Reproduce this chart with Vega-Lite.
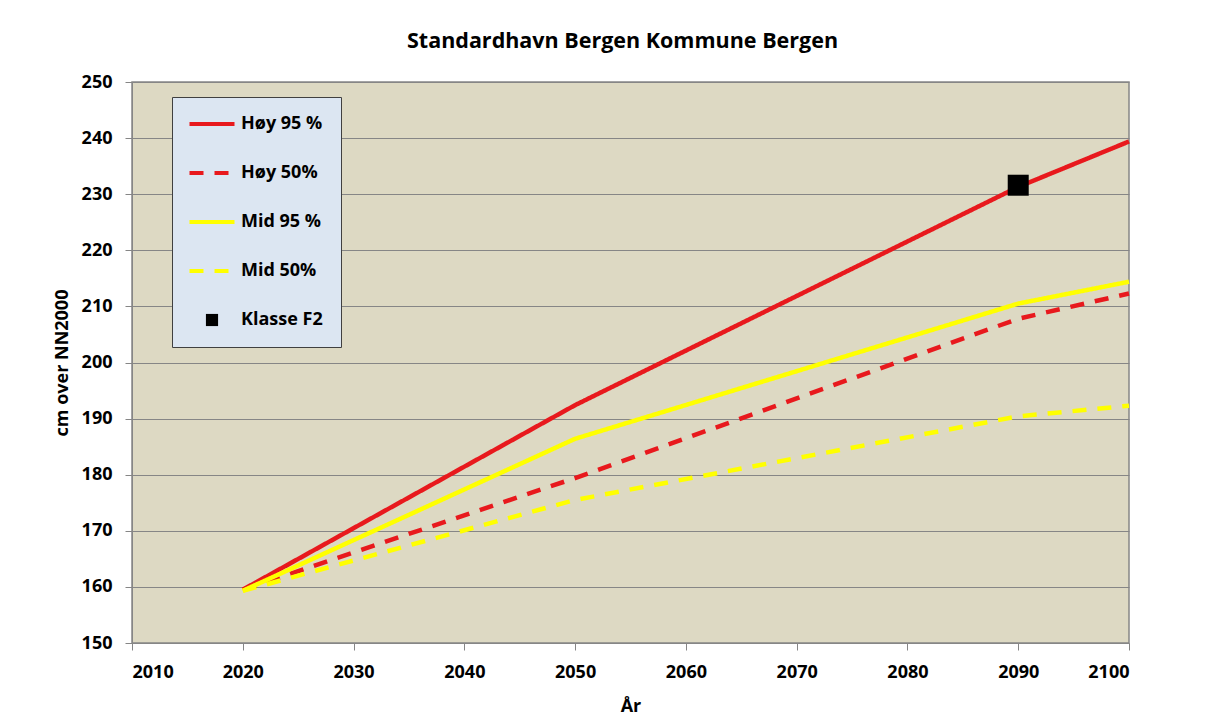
{
  "$schema": "https://vega.github.io/schema/vega-lite/v6.json",
  "width": 997,
  "height": 561,
  "autosize": {"type": "none"},
  "padding": {"left": 132, "top": 82, "right": 95, "bottom": 75},
  "background": "white",
  "title": {
    "text": "Standardhavn Bergen Kommune Bergen",
    "font": "Open Sans",
    "fontSize": 21.5,
    "fontWeight": "bold",
    "color": "#000000",
    "anchor": "middle",
    "frame": "group",
    "offset": 21,
    "dx": -8
  },
  "config": {
    "view": {"fill": "#DDD9C3", "stroke": "#868686", "strokeWidth": 1.5},
    "axis": {
      "labelFont": "Open Sans",
      "labelFontSize": 18,
      "labelFontWeight": "bold",
      "labelColor": "#000000",
      "titleFont": "Open Sans",
      "titleFontSize": 18,
      "titleFontWeight": "bold",
      "titleColor": "#000000",
      "tickColor": "#868686",
      "domainColor": "#868686",
      "gridColor": "#868686",
      "tickSize": 7
    }
  },
  "data": {
    "values": [
      {"series": "Høy 95 %", "year": 2020, "cm": 159.5},
      {"series": "Høy 95 %", "year": 2050, "cm": 192.4},
      {"series": "Høy 95 %", "year": 2090, "cm": 231.3},
      {"series": "Høy 95 %", "year": 2100, "cm": 239.4},
      {"series": "Høy 50%", "year": 2020, "cm": 159.5},
      {"series": "Høy 50%", "year": 2050, "cm": 179.4},
      {"series": "Høy 50%", "year": 2090, "cm": 207.8},
      {"series": "Høy 50%", "year": 2100, "cm": 212.3},
      {"series": "Mid 95 %", "year": 2020, "cm": 159.3},
      {"series": "Mid 95 %", "year": 2050, "cm": 186.4},
      {"series": "Mid 95 %", "year": 2090, "cm": 210.5},
      {"series": "Mid 95 %", "year": 2100, "cm": 214.4},
      {"series": "Mid 50%", "year": 2020, "cm": 159.3},
      {"series": "Mid 50%", "year": 2050, "cm": 175.5},
      {"series": "Mid 50%", "year": 2090, "cm": 190.4},
      {"series": "Mid 50%", "year": 2100, "cm": 192.3},
      {"series": "Klasse F2", "year": 2090, "cm": 231.6}
    ]
  },
  "encoding": {
    "x": {
      "field": "year",
      "type": "quantitative",
      "scale": {"domain": [2010, 2100], "nice": false, "zero": false},
      "axis": {
        "values": [2010, 2020, 2030, 2040, 2050, 2060, 2070, 2080, 2090, 2100],
        "format": "d",
        "grid": false,
        "title": "År",
        "labelPadding": 13,
        "titlePadding": 16
      }
    },
    "y": {
      "field": "cm",
      "type": "quantitative",
      "scale": {"domain": [150, 250], "nice": false, "zero": false},
      "axis": {
        "values": [150, 160, 170, 180, 190, 200, 210, 220, 230, 240, 250],
        "grid": true,
        "title": "cm over NN2000",
        "labelPadding": 13,
        "titlePadding": 10
      }
    }
  },
  "layer": [
    {
      "transform": [{"filter": "datum.series !== 'Klasse F2'"}],
      "mark": {"type": "line", "strokeWidth": 4.5},
      "encoding": {
        "color": {
          "field": "series",
          "type": "nominal",
          "sort": null,
          "scale": {
            "domain": ["Høy 95 %", "Høy 50%", "Mid 95 %", "Mid 50%", "Klasse F2"],
            "range": ["#E8191D", "#E8191D", "#FFFF00", "#FFFF00", "#000000"]
          },
          "legend": {
            "orient": "none",
            "legendX": 40,
            "legendY": 15,
            "title": null,
            "fillColor": "#DCE6F2",
            "strokeColor": "#404040",
            "padding": 18,
            "symbolSize": 2025,
            "symbolStrokeWidth": 4,
            "symbolOffset": 13,
            "labelOffset": 20,
            "rowPadding": 31,
            "labelFont": "Open Sans",
            "labelFontSize": 18,
            "labelFontWeight": "bold",
            "labelColor": "#000000",
            "symbolType": "stroke",
            "encode": {
              "symbols": {
                "update": {
                  "shape": {"signal": "datum.value === 'Klasse F2' ? 'M-0.27,-0.27H0.27V0.27H-0.27Z' : 'stroke'"},
                  "fill": {"signal": "datum.value === 'Klasse F2' ? '#000000' : 'transparent'"},
                  "strokeWidth": {"signal": "datum.value === 'Klasse F2' ? 0 : 4"}
                }
              }
            }
          }
        },
        "strokeDash": {
          "field": "series",
          "type": "nominal",
          "sort": null,
          "scale": {
            "domain": ["Høy 95 %", "Høy 50%", "Mid 95 %", "Mid 50%", "Klasse F2"],
            "range": [[1, 0], [14, 11], [1, 0], [14, 11], [1, 0]]
          },
          "legend": {
            "orient": "none",
            "legendX": 40,
            "legendY": 15,
            "title": null,
            "fillColor": "#DCE6F2",
            "strokeColor": "#404040",
            "padding": 18,
            "symbolSize": 2025,
            "symbolStrokeWidth": 4,
            "symbolOffset": 13,
            "labelOffset": 20,
            "rowPadding": 31,
            "labelFont": "Open Sans",
            "labelFontSize": 18,
            "labelFontWeight": "bold",
            "labelColor": "#000000",
            "symbolType": "stroke",
            "encode": {
              "symbols": {
                "update": {
                  "shape": {"signal": "datum.value === 'Klasse F2' ? 'M-0.27,-0.27H0.27V0.27H-0.27Z' : 'stroke'"},
                  "fill": {"signal": "datum.value === 'Klasse F2' ? '#000000' : 'transparent'"},
                  "strokeWidth": {"signal": "datum.value === 'Klasse F2' ? 0 : 4"}
                }
              }
            }
          }
        },
        "detail": {"field": "series", "type": "nominal"}
      }
    },
    {
      "transform": [{"filter": "datum.series === 'Klasse F2'"}],
      "mark": {"type": "point", "shape": "square", "filled": true, "size": 441, "color": "#000000", "opacity": 1, "strokeWidth": 0},
      "encoding": {}
    }
  ]
}
